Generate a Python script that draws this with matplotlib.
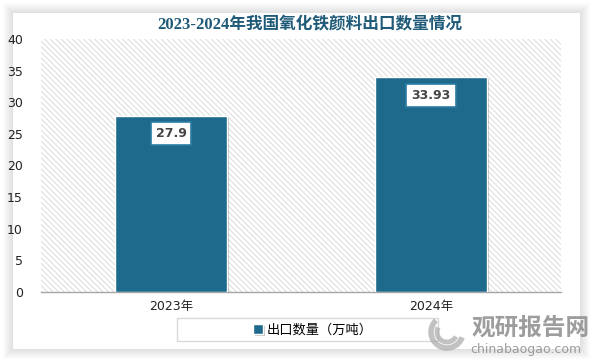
import matplotlib.pyplot as plt
from matplotlib.patches import Rectangle, Arc
import matplotlib.patheffects as pe

# data
years = ["2023年", "2024年"]
export_volume = [27.9, 33.93]
series_name = "出口数量（万吨）"
title = "2023-2024年我国氧化铁颜料出口数量情况"
yticks = [0, 5, 10, 15, 20, 25, 30, 35, 40]

plt.rcParams['font.family'] = ['DejaVu Sans', 'Noto Sans CJK SC']
plt.rcParams['hatch.linewidth'] = 0.6

W, H = 595, 362
fig = plt.figure(figsize=(W / 100, H / 100), dpi=100)
fig.patch.set_facecolor('white')

# card with soft shadow
cx0, cy0, cx1, cy1 = 13, 13, 580, 349
for i in range(10, 0, -1):
    fig.patches.append(Rectangle(((cx0 - i) / W, 1 - (cy1 + i) / H), (cx1 - cx0 + 2 * i) / W,
                                 (cy1 - cy0 + 2 * i) / H, transform=fig.transFigure,
                                 facecolor='#000000', alpha=0.012, edgecolor='none', zorder=-3))
fig.patches.append(Rectangle((cx0 / W, 1 - cy1 / H), (cx1 - cx0) / W, (cy1 - cy0) / H,
                             transform=fig.transFigure, facecolor='white', edgecolor='none', zorder=-2))

ax = fig.add_axes([41 / W, (H - 292) / H, 520 / W, 253 / H])
ax.set_facecolor('none')
ax.add_patch(Rectangle((0, 0), 1, 1, transform=ax.transAxes, facecolor='white',
                       edgecolor='#d6d6d6', hatch='\\\\\\\\\\\\', linewidth=0, zorder=0))

x = list(range(len(years)))
bars = ax.bar(x, export_volume, width=0.43, color='#1d6a8d', edgecolor='white', linewidth=1,
              zorder=3, label=series_name)
for b in bars:
    b.set_path_effects([pe.SimplePatchShadow(offset=(1.5, -1.5), alpha=0.25), pe.Normal()])

for xi, v in zip(x, export_volume):
    t = ax.annotate(f"{v:g}", (xi, v), xytext=(0, -18), textcoords='offset pixels',
                    ha='center', va='center', fontsize=9, fontweight='bold', color='#454545',
                    bbox=dict(boxstyle='square,pad=0.4', fc='white', ec='#2b7ca3', lw=1.2), zorder=5)

ax.set_xlim(-0.5, 1.5)
ax.set_ylim(0, 40)
ax.set_yticks(yticks)
ax.set_xticks(x)
ax.set_xticklabels(years, fontsize=9, color='#222222')
ax.tick_params(axis='y', length=0, labelsize=9, pad=13, labelcolor='#222222')
ax.tick_params(axis='x', length=0, pad=6)
for s in ['top', 'right', 'left']:
    ax.spines[s].set_visible(False)
ax.spines['bottom'].set_color('#a6a6a6')
ax.spines['bottom'].set_linewidth(1)

fig.text(310 / W, 1 - 25 / H, title, ha='center', va='center', fontsize=12, fontweight='bold',
         color='#1f5a78', family=['Liberation Serif', 'Noto Sans CJK SC'])

# legend box
fig.patches.append(Rectangle((177 / W, 1 - 341 / H), 261 / W, 23 / H, transform=fig.transFigure,
                             facecolor='white', edgecolor='#d9d9d9', linewidth=1, zorder=2))
leg = fig.legend(handles=[bars], labels=[series_name], loc='center', bbox_to_anchor=(313 / W, 1 - 330 / H),
                 frameon=False, fontsize=9.5, handlelength=0.7, handleheight=0.7, handletextpad=0.3)
leg.set_zorder(3)

# watermark
for r, a1, a2, lw in [(16, 120, 330, 4), (10, 140, 320, 3.5)]:
    fig.patches.append(Arc((447 / W, 1 - 332 / H), 2 * r / W, 2 * r / H, theta1=a1, theta2=a2,
                           transform=fig.transFigure, color='#a8a8a8', lw=lw, alpha=0.7, zorder=6))
fig.text(472 / W, 1 - 328 / H, "观研报告网", fontsize=17, fontweight='bold', color='#8c8c8c',
         alpha=0.85, ha='left', va='center', family=['Noto Sans CJK SC'], zorder=6)
fig.text(470 / W, 1 - 349 / H, "chinabaogao.com", fontsize=9, color='#8c8c8c', alpha=0.85,
         ha='left', va='center', zorder=6)

fig.savefig('out.png', dpi=100)
